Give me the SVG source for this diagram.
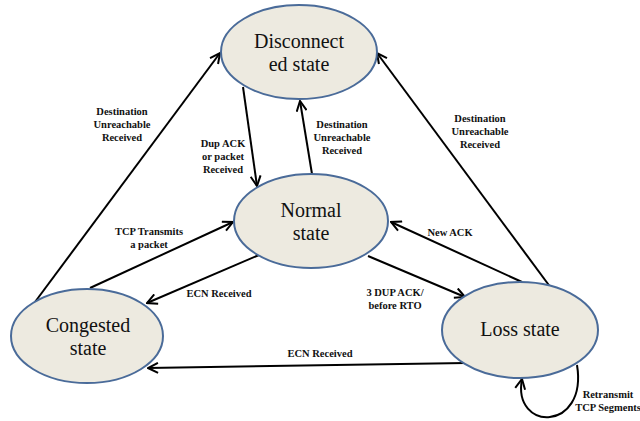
<svg xmlns="http://www.w3.org/2000/svg" width="640" height="421" viewBox="0 0 640 421">
  <style>
    .state ellipse { fill: #EDEAE0; stroke: #4A6B99; stroke-width: 2; }
    .state text { font-size: 20px; fill: #111; text-anchor: middle; }
    .edges path { fill: none; stroke: #000; stroke-width: 2; marker-end: url(#arrow); }
    .lbl { font-size: 10.5px; font-weight: bold; fill: #111; text-anchor: middle; }
  </style>
  <defs>
    <marker id="arrow" viewBox="0 0 12 12" refX="11" refY="6" markerWidth="12" markerHeight="12" markerUnits="userSpaceOnUse" orient="auto">
      <path d="M1,1 L11,6 L1,11" fill="none" stroke="#000" stroke-width="2"/>
    </marker>
  </defs>
  <rect width="640" height="421" fill="#fff"/>

  <!-- transitions -->
  <g id="edges" class="edges">
    <path d="M35,302 L220,53"/>
    <path d="M243,87 L257,186"/>
    <path d="M312,174 L300,101"/>
    <path d="M551,288 L377,53"/>
    <path d="M90,288 L233,222"/>
    <path d="M259,255 L147,303"/>
    <path d="M522,282 L391,222"/>
    <path d="M368,256 L465,297"/>
    <path d="M466,363 L148,368"/>
    <path d="M577,365 C588,432 512,432 522,379"/>
  </g>

  <!-- transition labels -->
  <g id="labels" font-family="Liberation Serif, Noto Serif, DejaVu Serif, serif">
    <text class="lbl" x="122" y="115">Destination</text>
    <text class="lbl" x="122" y="128">Unreachable</text>
    <text class="lbl" x="122" y="141">Received</text>

    <text class="lbl" x="223" y="147">Dup ACK</text>
    <text class="lbl" x="223" y="160">or packet</text>
    <text class="lbl" x="223" y="173">Received</text>

    <text class="lbl" x="342" y="128">Destination</text>
    <text class="lbl" x="342" y="141">Unreachable</text>
    <text class="lbl" x="342" y="154">Received</text>

    <text class="lbl" x="480" y="122">Destination</text>
    <text class="lbl" x="480" y="135">Unreachable</text>
    <text class="lbl" x="480" y="148">Received</text>

    <text class="lbl" x="149" y="235">TCP Transmits</text>
    <text class="lbl" x="149" y="248">a packet</text>

    <text class="lbl" x="219" y="297">ECN Received</text>

    <text class="lbl" x="450" y="236">New ACK</text>

    <text class="lbl" x="395" y="296">3 DUP ACK/</text>
    <text class="lbl" x="395" y="309">before RTO</text>

    <text class="lbl" x="320" y="357">ECN Received</text>

    <text class="lbl" x="608" y="398">Retransmit</text>
    <text class="lbl" x="608" y="411">TCP Segments</text>
  </g>

  <!-- states -->
  <g font-family="Liberation Serif, Noto Serif, DejaVu Serif, serif">
    <g id="disconnected" class="state">
      <ellipse cx="299" cy="52" rx="78" ry="47"/>
      <text x="299" y="48">Disconnect</text>
      <text x="299" y="71">ed state</text>
    </g>
    <g id="normal" class="state">
      <ellipse cx="311" cy="221" rx="77" ry="47"/>
      <text x="311" y="217">Normal</text>
      <text x="311" y="240">state</text>
    </g>
    <g id="congested" class="state">
      <ellipse cx="87" cy="336" rx="76" ry="47"/>
      <text x="88" y="332">Congested</text>
      <text x="88" y="355">state</text>
    </g>
    <g id="loss" class="state">
      <ellipse cx="520" cy="330" rx="78" ry="48"/>
      <text x="520" y="336">Loss state</text>
    </g>
  </g>
</svg>
